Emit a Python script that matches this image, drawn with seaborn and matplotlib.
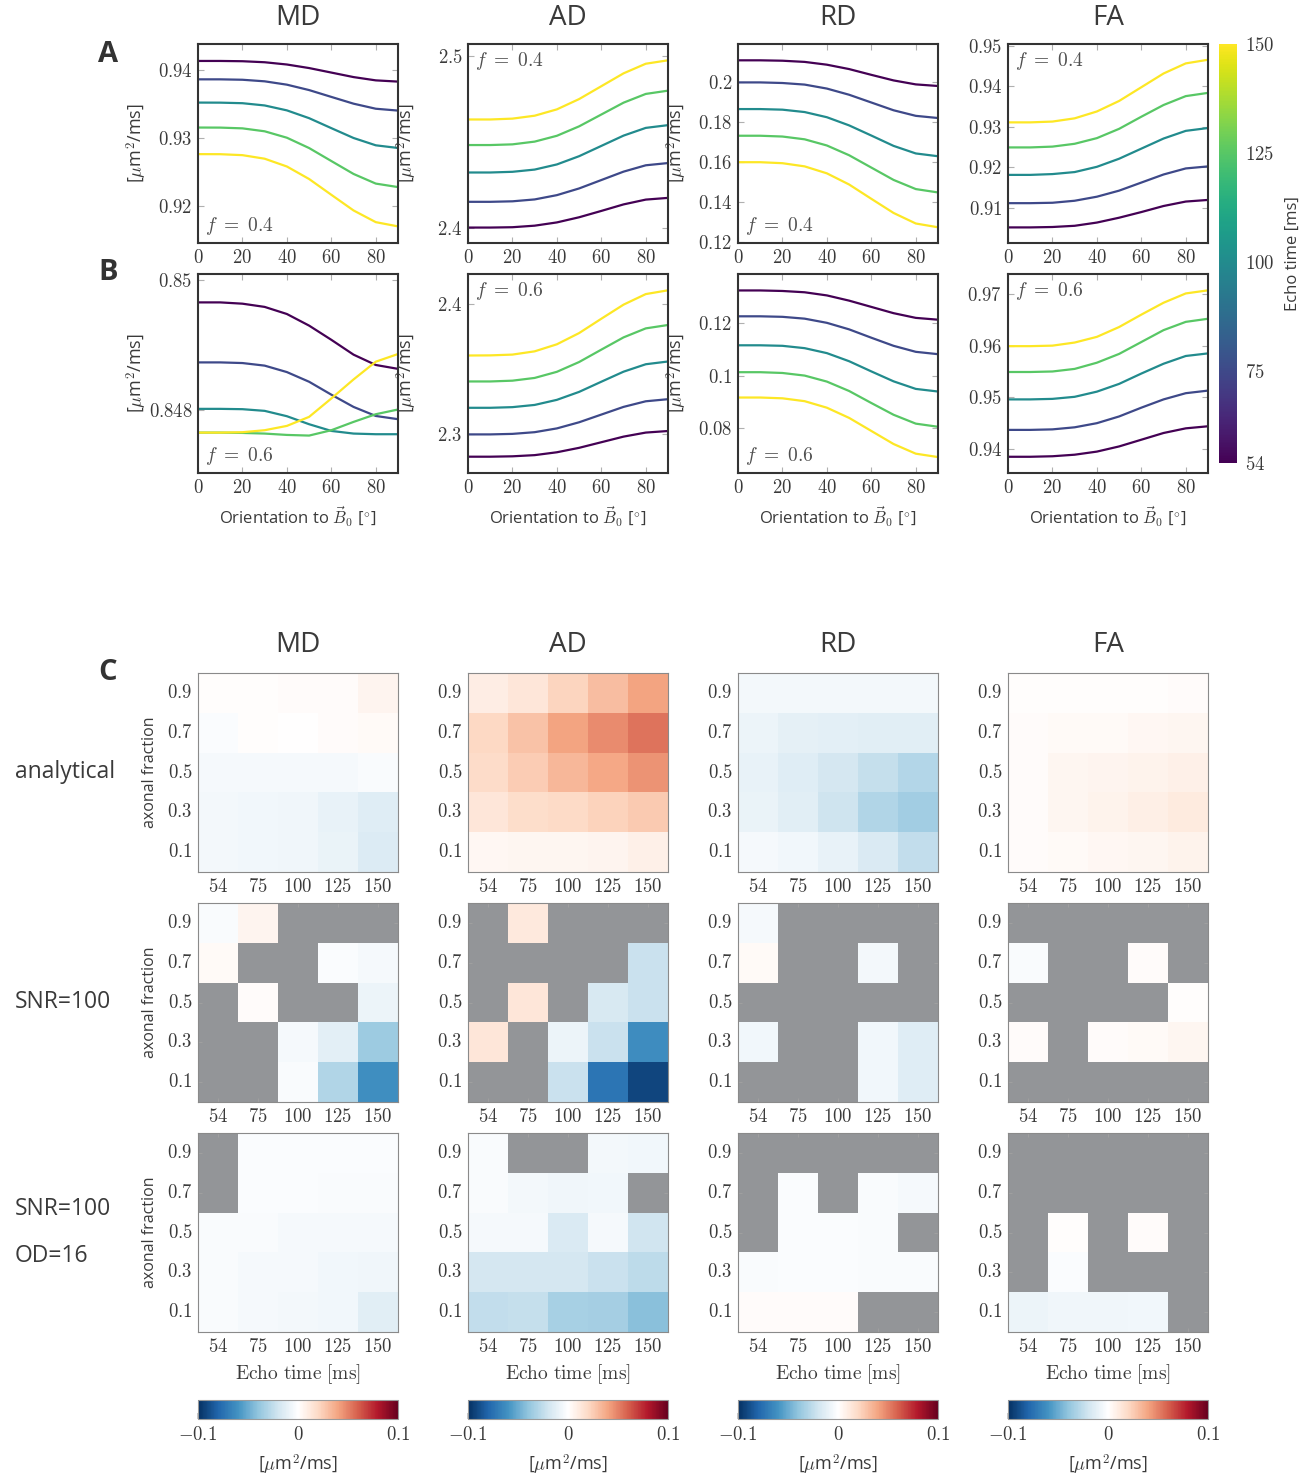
import numpy as np
import pandas as pd
import matplotlib
matplotlib.use("Agg")
import matplotlib.pyplot as plt
import seaborn as sns
from matplotlib.ticker import FuncFormatter, FixedLocator
from matplotlib.cm import ScalarMappable
from matplotlib.colors import Normalize, LinearSegmentedColormap

# ---------------- data ----------------
angles = [0, 10, 20, 30, 40, 50, 60, 70, 80, 90]
echo_times = [54, 75, 100, 125, 150]
fractions = [0.9, 0.7, 0.5, 0.3, 0.1]
metrics = ["MD", "AD", "RD", "FA"]

# Row A (f = 0.4); one list per echo time (54, 75, 100, 125, 150)
md_f04 = [
    [0.94127, 0.94127, 0.94123, 0.94108, 0.94075, 0.94023, 0.93957, 0.93891, 0.93843, 0.93825],
    [0.93858, 0.93858, 0.93852, 0.93829, 0.93780, 0.93701, 0.93601, 0.93502, 0.93428, 0.93401],
    [0.93518, 0.93517, 0.93509, 0.93476, 0.93404, 0.93290, 0.93144, 0.93000, 0.92893, 0.92854],
    [0.93153, 0.93152, 0.93141, 0.93098, 0.93004, 0.92853, 0.92663, 0.92474, 0.92333, 0.92282],
    [0.92764, 0.92763, 0.92749, 0.92697, 0.92583, 0.92400, 0.92169, 0.91940, 0.91769, 0.91707],
]
ad_f04 = [
    [2.4000, 2.4000, 2.4002, 2.4011, 2.4030, 2.4060, 2.4097, 2.4135, 2.4163, 2.4173],
    [2.4150, 2.4150, 2.4153, 2.4164, 2.4189, 2.4228, 2.4277, 2.4326, 2.4363, 2.4376],
    [2.4321, 2.4321, 2.4325, 2.4338, 2.4368, 2.4416, 2.4476, 2.4536, 2.4581, 2.4597],
    [2.4481, 2.4481, 2.4485, 2.4501, 2.4535, 2.4590, 2.4659, 2.4728, 2.4779, 2.4798],
    [2.4630, 2.4630, 2.4635, 2.4652, 2.4689, 2.4749, 2.4824, 2.4899, 2.4955, 2.4975],
]
rd_f04 = [
    [0.2111, 0.2111, 0.2109, 0.2103, 0.2089, 0.2067, 0.2038, 0.2010, 0.1990, 0.1982],
    [0.2000, 0.2000, 0.1997, 0.1989, 0.1969, 0.1938, 0.1899, 0.1860, 0.1832, 0.1821],
    [0.1866, 0.1866, 0.1863, 0.1851, 0.1825, 0.1784, 0.1733, 0.1681, 0.1643, 0.1629],
    [0.1732, 0.1732, 0.1728, 0.1714, 0.1683, 0.1634, 0.1572, 0.1510, 0.1464, 0.1447],
    [0.1599, 0.1599, 0.1594, 0.1578, 0.1543, 0.1487, 0.1415, 0.1344, 0.1291, 0.1272],
]
fa_f04 = [
    [0.9051, 0.9051, 0.9052, 0.9055, 0.9063, 0.9075, 0.9089, 0.9104, 0.9115, 0.9119],
    [0.9111, 0.9111, 0.9112, 0.9117, 0.9127, 0.9142, 0.9162, 0.9182, 0.9197, 0.9202],
    [0.9181, 0.9181, 0.9183, 0.9188, 0.9201, 0.9221, 0.9246, 0.9271, 0.9290, 0.9297],
    [0.9249, 0.9249, 0.9251, 0.9258, 0.9272, 0.9295, 0.9325, 0.9354, 0.9376, 0.9384],
    [0.9311, 0.9311, 0.9313, 0.9321, 0.9338, 0.9364, 0.9398, 0.9432, 0.9457, 0.9466],
]
# Row B (f = 0.6)
md_f06 = [
    [0.84966, 0.84966, 0.84964, 0.84959, 0.84948, 0.84930, 0.84908, 0.84885, 0.84869, 0.84863],
    [0.84873, 0.84873, 0.84872, 0.84868, 0.84858, 0.84843, 0.84823, 0.84804, 0.84790, 0.84785],
    [0.848010, 0.848010, 0.848005, 0.847979, 0.847896, 0.847772, 0.847668, 0.847627, 0.847617, 0.847617],
    [0.847642, 0.847642, 0.847637, 0.847627, 0.847606, 0.847596, 0.847679, 0.847808, 0.847927, 0.848000],
    [0.847642, 0.847642, 0.847648, 0.847679, 0.847746, 0.847886, 0.848171, 0.848466, 0.848741, 0.848860],
]
ad_f06 = [
    [2.2829, 2.2829, 2.2832, 2.2841, 2.2863, 2.2897, 2.2940, 2.2983, 2.3014, 2.3026],
    [2.3000, 2.3000, 2.3004, 2.3017, 2.3046, 2.3093, 2.3152, 2.3211, 2.3254, 2.3270],
    [2.3204, 2.3204, 2.3209, 2.3226, 2.3265, 2.3326, 2.3404, 2.3481, 2.3538, 2.3559],
    [2.3406, 2.3406, 2.3412, 2.3433, 2.3480, 2.3555, 2.3650, 2.3744, 2.3813, 2.3839],
    [2.3605, 2.3606, 2.3612, 2.3637, 2.3691, 2.3777, 2.3887, 2.3995, 2.4076, 2.4105],
]
rd_f06 = [
    [0.1326, 0.1326, 0.1324, 0.1319, 0.1307, 0.1287, 0.1263, 0.1239, 0.1221, 0.1214],
    [0.1227, 0.1227, 0.1225, 0.1218, 0.1202, 0.1177, 0.1145, 0.1114, 0.1091, 0.1082],
    [0.1116, 0.1116, 0.1114, 0.1105, 0.1086, 0.1055, 0.1016, 0.0978, 0.0949, 0.0939],
    [0.1013, 0.1013, 0.1010, 0.1000, 0.0977, 0.0941, 0.0895, 0.0850, 0.0816, 0.0804],
    [0.0916, 0.0916, 0.0913, 0.0902, 0.0877, 0.0838, 0.0788, 0.0738, 0.0701, 0.0688],
]
fa_f06 = [
    [0.9385, 0.9385, 0.9386, 0.9389, 0.9395, 0.9405, 0.9418, 0.9431, 0.9440, 0.9444],
    [0.9437, 0.9437, 0.9438, 0.9442, 0.9450, 0.9463, 0.9480, 0.9496, 0.9508, 0.9513],
    [0.9496, 0.9496, 0.9497, 0.9501, 0.9511, 0.9526, 0.9546, 0.9565, 0.9580, 0.9585],
    [0.9549, 0.9549, 0.9550, 0.9555, 0.9567, 0.9584, 0.9607, 0.9630, 0.9646, 0.9652],
    [0.9599, 0.9599, 0.9600, 0.9606, 0.9617, 0.9636, 0.9660, 0.9683, 0.9701, 0.9707],
]

ylims_A = [(0.91464, 0.94375), (2.391, 2.507), (0.1193, 0.2193), (0.90124, 0.9505)]
ylims_B = [(0.847016, 0.8501), (2.2704, 2.423), (0.0627, 0.1389), (0.93536, 0.97386)]
yticks_A = [[0.92, 0.93, 0.94], [2.4, 2.5], [0.12, 0.14, 0.16, 0.18, 0.2], [0.91, 0.92, 0.93, 0.94, 0.95]]
yticks_B = [[0.848, 0.85], [2.3, 2.4], [0.08, 0.1, 0.12], [0.94, 0.95, 0.96, 0.97]]

nan = np.nan
# Heatmaps: rows = axonal fraction 0.9 .. 0.1, columns = echo time 54 .. 150
md_analytical = [
    [0.001, 0.001, 0.002, 0.002, 0.006],
    [-0.002, 0.001, 0.0005, 0.002, 0.003],
    [-0.004, -0.004, -0.004, -0.004, -0.003],
    [-0.005, -0.006, -0.007, -0.010, -0.014],
    [-0.005, -0.006, -0.007, -0.009, -0.015],
]
ad_analytical = [
    [0.010, 0.014, 0.022, 0.031, 0.040],
    [0.021, 0.029, 0.040, 0.047, 0.054],
    [0.019, 0.025, 0.033, 0.039, 0.045],
    [0.014, 0.018, 0.020, 0.023, 0.026],
    [0.004, 0.005, 0.005, 0.006, 0.008],
]
rd_analytical = [
    [-0.005, -0.005, -0.005, -0.005, -0.005],
    [-0.008, -0.011, -0.012, -0.013, -0.013],
    [-0.010, -0.014, -0.018, -0.024, -0.029],
    [-0.009, -0.013, -0.021, -0.030, -0.035],
    [-0.004, -0.006, -0.010, -0.016, -0.025],
]
fa_analytical = [
    [0.001, 0.001, 0.001, 0.001, 0.002],
    [0.002, 0.003, 0.003, 0.004, 0.005],
    [0.002, 0.005, 0.006, 0.007, 0.008],
    [0.002, 0.005, 0.007, 0.009, 0.011],
    [0.002, 0.003, 0.004, 0.005, 0.007],
]
md_snr100 = [
    [-0.003, 0.006, nan, nan, nan],
    [0.003, nan, nan, -0.002, -0.004],
    [nan, 0.002, nan, nan, -0.008],
    [nan, nan, -0.004, -0.012, -0.036],
    [nan, nan, -0.003, -0.030, -0.062],
]
ad_snr100 = [
    [nan, 0.012, nan, nan, nan],
    [nan, nan, nan, nan, -0.022],
    [nan, 0.014, nan, -0.017, -0.022],
    [0.014, nan, -0.008, -0.022, -0.063],
    [nan, nan, -0.022, -0.073, -0.092],
]
rd_snr100 = [
    [-0.004, nan, nan, nan, nan],
    [0.003, nan, nan, -0.005, nan],
    [nan, nan, nan, nan, nan],
    [-0.006, nan, nan, -0.006, -0.014],
    [nan, nan, nan, -0.006, -0.014],
]
fa_snr100 = [
    [nan, nan, nan, nan, nan],
    [-0.003, nan, nan, 0.002, nan],
    [nan, nan, nan, nan, 0.001],
    [0.002, nan, 0.002, 0.003, 0.005],
    [nan, nan, nan, nan, nan],
]
md_snr100_od16 = [
    [nan, -0.002, -0.002, -0.002, -0.002],
    [nan, -0.002, -0.002, -0.003, -0.003],
    [-0.003, -0.003, -0.004, -0.004, -0.004],
    [-0.003, -0.004, -0.004, -0.006, -0.007],
    [-0.003, -0.004, -0.005, -0.006, -0.013],
]
ad_snr100_od16 = [
    [-0.003, nan, nan, -0.005, -0.006],
    [-0.003, -0.005, -0.007, -0.006, nan],
    [-0.004, -0.004, -0.016, -0.004, -0.020],
    [-0.018, -0.018, -0.018, -0.022, -0.026],
    [-0.025, -0.024, -0.033, -0.034, -0.042],
]
rd_snr100_od16 = [
    [nan, nan, nan, nan, nan],
    [nan, -0.002, nan, -0.003, -0.004],
    [nan, -0.002, -0.002, -0.003, nan],
    [-0.003, -0.002, -0.002, -0.003, -0.003],
    [0.002, 0.002, 0.002, nan, nan],
]
fa_snr100_od16 = [
    [nan, nan, nan, nan, nan],
    [nan, nan, nan, nan, nan],
    [nan, 0.001, nan, 0.002, nan],
    [nan, -0.002, nan, nan, nan],
    [-0.008, -0.007, -0.007, -0.006, nan],
]

# ---------------- style ----------------
sns.set_theme(style="white")
plt.rcParams["font.family"] = ["Open Sans", "DejaVu Sans"]
plt.rcParams["mathtext.fontset"] = "cm"

W, H = 1299, 1479
fig = plt.figure(figsize=(W / 100, H / 100), dpi=100)


def rect(x0, y0, w, h):
    return [x0 / W, 1 - (y0 + h) / H, w / W, h / H]


def cm_fmt(v, pos=None):
    s = f"{v:g}"
    return f"${s}$"


TEXT = "#3a3a3a"
col_x = [198, 468, 738, 1008]
PW, PH = 200, 199
tick_size = 13.5
unit_label = r"[$\mu$m$^2$/ms]"

viridis = plt.get_cmap("viridis")
te_norm = Normalize(54, 150)
div_cmap = LinearSegmentedColormap.from_list(
    "rdbu_white",
    ["#053061", "#2166ac", "#4393c3", "#92c5de", "#d1e5f0", "#ffffff",
     "#fddbc7", "#f4a582", "#d6604d", "#b2182b", "#67001f"])

line_rows = [
    ([md_f04, ad_f04, rd_f04, fa_f04], ylims_A, yticks_A, "0.4", 44),
    ([md_f06, ad_f06, rd_f06, fa_f06], ylims_B, yticks_B, "0.6", 274),
]
f_pos_bottom = {0: True, 1: False, 2: True, 3: False}

for r, (panels, ylims, yticks, ftxt, y0) in enumerate(line_rows):
    for c, pdata in enumerate(panels):
        ax = fig.add_axes(rect(col_x[c], y0, PW, PH))
        rows = []
        for te, vals in zip(echo_times, pdata):
            for a, v in zip(angles, vals):
                rows.append({"angle": a, "value": v, "te": te})
        df = pd.DataFrame(rows)
        sns.lineplot(data=df, x="angle", y="value", hue="te", palette="viridis",
                     hue_norm=(54, 150), legend=False, ax=ax, linewidth=1.6)
        ax.set_xlim(0, 90)
        ax.set_ylim(*ylims[c])
        ax.xaxis.set_major_locator(FixedLocator([0, 20, 40, 60, 80]))
        ax.yaxis.set_major_locator(FixedLocator(yticks[c]))
        ax.xaxis.set_major_formatter(FuncFormatter(cm_fmt))
        ax.yaxis.set_major_formatter(FuncFormatter(cm_fmt))
        ax.tick_params(direction="in", length=4, width=0.8, color="#b0b0b0",
                       labelsize=tick_size, labelcolor=TEXT, top=True, right=True,
                       bottom=True, left=True, pad=4)
        for sp in ax.spines.values():
            sp.set_visible(True)
            sp.set_color("#333333")
            sp.set_linewidth(1.5)
        ax.set_xlabel("")
        ax.set_ylabel("")
        if c < 3:
            ax.set_ylabel(unit_label, fontsize=13, color=TEXT)
            ax.yaxis.set_label_coords(-0.245, 0.5)
        if r == 1:
            ax.set_xlabel(r"Orientation to $\vec{B}_0$ [$^{\circ}$]", fontsize=12, color=TEXT,
                          labelpad=6)
        ftex = rf"$f\ =\ {ftxt}$"
        if f_pos_bottom[c]:
            ax.text(0.035, 0.03, ftex, transform=ax.transAxes, ha="left",
                    va="bottom", fontsize=14, color="#505050")
        else:
            ax.text(0.035, 0.97, ftex, transform=ax.transAxes, ha="left",
                    va="top", fontsize=14, color="#505050")

# viridis colorbar
cax = fig.add_axes(rect(1219, 44, 18, 419))
cb = fig.colorbar(ScalarMappable(norm=te_norm, cmap=viridis), cax=cax)
cb.set_ticks(echo_times)
cb.ax.yaxis.set_major_formatter(FuncFormatter(cm_fmt))
cb.ax.tick_params(direction="in", length=3, color="white", labelsize=tick_size,
                  labelcolor=TEXT, pad=6)
cb.outline.set_visible(False)
cb.set_label("Echo time [ms]", fontsize=12, color=TEXT, labelpad=7)

# heatmaps
heat_rows = [
    [md_analytical, ad_analytical, rd_analytical, fa_analytical],
    [md_snr100, ad_snr100, rd_snr100, fa_snr100],
    [md_snr100_od16, ad_snr100_od16, rd_snr100_od16, fa_snr100_od16],
]
heat_y = [673, 903, 1133]
for r, panels in enumerate(heat_rows):
    for c, hdata in enumerate(panels):
        ax = fig.add_axes(rect(col_x[c], heat_y[r], PW, PH))
        df = pd.DataFrame(hdata, index=fractions, columns=echo_times)
        ax.set_facecolor("#939598")
        sns.heatmap(df, ax=ax, cmap=div_cmap, vmin=-0.1, vmax=0.1, cbar=False,
                    linewidths=0)
        ax.set_xticks(np.arange(5) + 0.5)
        ax.set_xticklabels([cm_fmt(t) for t in echo_times], rotation=0)
        ax.set_yticks(np.arange(5) + 0.5)
        ax.set_yticklabels([cm_fmt(f) for f in fractions], rotation=0)
        ax.tick_params(direction="in", length=3, width=0.7, color="#a0a0a0",
                       labelsize=tick_size, labelcolor=TEXT, top=True, right=True,
                       bottom=True, left=True, pad=4)
        for sp in ax.spines.values():
            sp.set_visible(True)
            sp.set_color("#8a8a8a")
            sp.set_linewidth(0.8)
        ax.set_xlabel("")
        ax.set_ylabel("")
        if c == 0:
            ax.set_ylabel("axonal fraction", fontsize=11.5, color=TEXT)
            ax.yaxis.set_label_coords(-0.2, 0.5)
        if r == 2:
            ax.set_xlabel(r"$\mathrm{Echo\ time\ [ms]}$", fontsize=14, color=TEXT, labelpad=5)

# bottom colorbars
for c in range(4):
    cax = fig.add_axes(rect(col_x[c], 1400, PW, 19))
    cb = fig.colorbar(ScalarMappable(norm=Normalize(-0.1, 0.1), cmap=div_cmap), cax=cax,
                      orientation="horizontal")
    cb.set_ticks([-0.1, 0, 0.1])
    cb.ax.xaxis.set_major_formatter(FuncFormatter(cm_fmt))
    cb.ax.tick_params(direction="in", length=4, color="#c0c0c0", labelsize=tick_size,
                      labelcolor=TEXT, pad=5)
    cb.outline.set_edgecolor("#9a9a9a")
    cb.outline.set_linewidth(0.8)
    cb.set_label(unit_label, fontsize=13, color=TEXT, labelpad=6)

# titles and labels
for c, m in enumerate(metrics):
    cx = (col_x[c] + PW / 2) / W
    fig.text(cx, 1 - 18 / H, m, ha="center", va="center", fontsize=20, color=TEXT)
    fig.text(cx, 1 - 645 / H, m, ha="center", va="center", fontsize=20, color=TEXT)

for lab, y in [("A", 55), ("B", 273), ("C", 672)]:
    fig.text(108 / W, 1 - y / H, lab, ha="center", va="center", fontsize=21,
             fontweight="bold", color="#333333")

for lab, y in [("analytical", 772), ("SNR=100", 1002), ("SNR=100", 1209), ("OD=16", 1256)]:
    fig.text(15 / W, 1 - y / H, lab, ha="left", va="center", fontsize=16.5, color=TEXT)

fig.savefig("out.png", dpi=100, facecolor="white")
